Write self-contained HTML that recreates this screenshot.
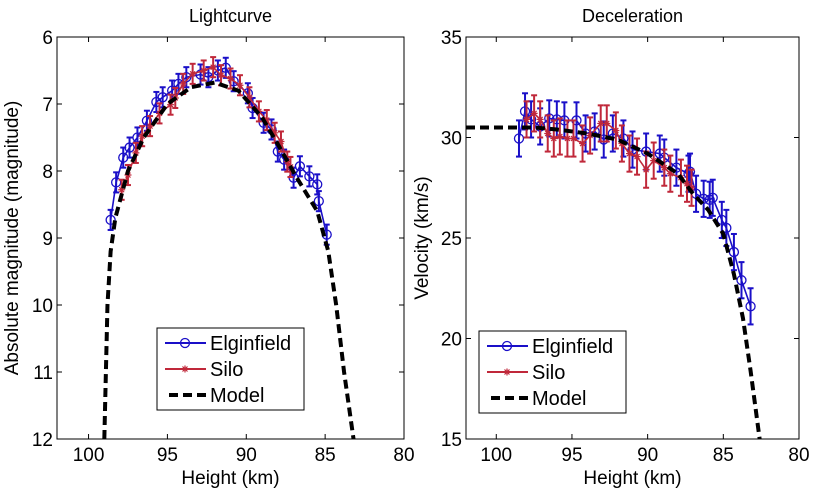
<!DOCTYPE html>
<html><head><meta charset="utf-8"><style>
html,body{margin:0;padding:0;background:#fff;}
svg{display:block;font-family:"Liberation Sans",sans-serif;}
</style></head><body>
<svg id="fig" width="813" height="489" viewBox="0 0 813 489"></svg>
<script>
// ---- Lightcurve data ----
const lcModelH=[99.0,98.9,98.8,98.6,98.3,97.5,96.5,95,93.5,92,90.5,89,88,86.8,85.5,84.8,84.3,83.8,83.2];
const lcModelM=[12,11,10,9.2,8.7,8.0,7.5,7.0,6.75,6.68,6.8,7.2,7.6,8.1,8.6,9.2,10,11,12];
const lcElgH=[98.6,98.25,97.8,97.4,96.9,96.3,95.7,95.3,94.7,94.3,93.8,92.9,92.4,91.8,91.3,90.8,89.9,89.6,88.9,88.4,88.0,87.6,87.0,86.6,86.0,85.5,85.4,84.9];
const lcElgM=[8.73,8.17,7.8,7.65,7.5,7.25,6.97,6.9,6.8,6.7,6.6,6.56,6.6,6.5,6.46,6.66,6.84,7.06,7.28,7.38,7.71,7.83,8.1,7.93,8.08,8.2,8.45,8.95];
const lcSiloH=[97.9,97.5,97.0,96.6,96.1,95.5,94.8,94.5,94.0,93.4,92.7,92.1,91.6,91.0,90.4,89.8,89.2,88.7,88.2,87.8,87.4,87.2];
const lcSiloM=[8.28,8.06,7.73,7.48,7.33,7.14,7.01,6.91,6.7,6.55,6.5,6.45,6.57,6.62,6.72,6.9,7.11,7.24,7.43,7.56,7.86,7.94];
const lcErr=0.15;
// ---- Deceleration data ----
const vModelH=[102,97.5,96,94,92,90,88,87,86,85,84.3,83.7,83.2,82.6];
const vModelV=[30.5,30.5,30.4,30.2,29.9,29.2,28.2,27.2,26.4,25.2,23.2,21,18.4,15];
const vElgH=[98.5,98.1,97.7,97.1,96.5,96.0,95.5,94.7,94.1,93.5,92.9,92.3,91.6,91.0,90.1,89.2,88.9,88.1,87.3,87.2,86.8,86.3,85.9,85.7,85.1,84.8,84.3,83.8,83.2];
const vElgV=[29.95,31.3,30.9,30.55,30.95,30.9,30.85,30.85,30.2,30.3,29.9,30.2,29.95,29.4,29.3,29.2,29.0,28.5,28.2,28.3,27.2,26.95,26.9,27.0,25.9,25.5,24.3,22.9,21.6];
const vSiloH=[98.0,97.5,97.1,96.6,96.2,95.8,95.3,94.9,94.3,93.8,93.1,92.7,92.1,91.7,91.2,90.7,90.1,89.6,88.9,88.5,87.8,87.4,87.1];
const vSiloV=[30.9,31.2,30.9,30.2,29.95,30.05,29.95,29.95,29.7,30.1,30.7,30.7,30.35,29.7,29.2,29.05,28.4,28.85,28.5,28.2,28.0,27.7,27.5];
const vErr=0.9;
const xTicks=[100,95,90,85,80];
const lcYTicks=[6,7,8,9,10,11,12];
const vYTicks=[15,20,25,30,35];

const NS='http://www.w3.org/2000/svg';
const svg=document.getElementById('fig');
function mk(tag,attrs,parent){const e=document.createElementNS(NS,tag);for(const k in attrs)e.setAttribute(k,attrs[k]);(parent||svg).appendChild(e);return e;}
const BLUE='#1a0fc8',RED='#c0283a';
const FS=19;

function panel(o){
  const g=mk('g',{});
  
  
  const sx=h=>o.x0+(o.hL-h)/(o.hL-o.hR)*(o.x1-o.x0);
  const sy=v=>o.y0+(v-o.vT)/(o.vB-o.vT)*(o.y1-o.y0);
  const clip='c'+o.name;
  const cp=mk('clipPath',{id:clip},g);mk('rect',{x:o.x0,y:o.y0,width:o.x1-o.x0,height:o.y1-o.y0},cp);
  mk('rect',{x:o.x0,y:o.y0,width:o.x1-o.x0,height:o.y1-o.y0,fill:'#fff',stroke:'#000','stroke-width':1},g);
  xTicks.forEach(t=>{const x=sx(t);
    mk('line',{x1:x,y1:o.y1,x2:x,y2:o.y1-5,stroke:'#000'},g);
    mk('line',{x1:x,y1:o.y0,x2:x,y2:o.y0+5,stroke:'#000'},g);
    const tx=mk('text',{x:x,y:o.y1+22,'font-size':FS,'text-anchor':'middle'},g);tx.textContent=t;
    
    });
  o.yt.forEach(t=>{const y=sy(t);
    mk('line',{x1:o.x0,y1:y,x2:o.x0+5,y2:y,stroke:'#000'},g);
    mk('line',{x1:o.x1,y1:y,x2:o.x1-5,y2:y,stroke:'#000'},g);
    const tx=mk('text',{x:o.x0-4,y:y+7,'font-size':FS,'text-anchor':'end'},g);tx.textContent=t;
    
    });
  const ti=mk('text',{x:(o.x0+o.x1)/2,y:22,'font-size':18,'text-anchor':'middle'},g);ti.textContent=o.title;
  
  
  const xl=mk('text',{x:(o.x0+o.x1)/2,y:o.y1+45,'font-size':FS,'text-anchor':'middle'},g);xl.textContent='Height (km)';
  
  
  const yl=mk('text',{x:0,y:0,'font-size':FS,'text-anchor':'middle',transform:`translate(${o.ylx},${(o.y0+o.y1)/2}) rotate(-90)`},g);yl.textContent=o.ylabel;
  
  
  const pg=mk('g',{'clip-path':`url(#${clip})`},g);
  function series(H,V,err,col,marker,name){
    const sg=mk('g',{},pg);
    
    
    mk('polyline',{points:H.map((h,i)=>sx(h)+','+sy(V[i])).join(' '),fill:'none',stroke:col,'stroke-width':1.6},sg);
    H.forEach((h,i)=>{const x=sx(h),ya=sy(V[i]-err),yb=sy(V[i]+err);
      mk('line',{x1:x,y1:ya,x2:x,y2:yb,stroke:col,'stroke-width':2},sg);
      mk('line',{x1:x-3,y1:ya,x2:x+3,y2:ya,stroke:col,'stroke-width':2},sg);
      mk('line',{x1:x-3,y1:yb,x2:x+3,y2:yb,stroke:col,'stroke-width':2},sg);
      drawMarker(sg,marker,x,sy(V[i]),col);});
  }
  series(o.eH,o.eV,o.err,BLUE,'o','elginfield-series');
  series(o.sH,o.sV,o.err,RED,'*','silo-series');
  const mg=mk('polyline',{points:o.mH.map((h,i)=>sx(h)+','+sy(o.mV[i])).join(' '),fill:'none',stroke:'#000','stroke-width':4,'stroke-dasharray':'9,5'},pg);
  
  
  const L=o.leg;const lg=mk('g',{},g);
  
  
  mk('rect',{x:L.x,y:L.y,width:147,height:82,fill:'#fff',stroke:'#000'},lg);
  [['Elginfield',BLUE,'o'],['Silo',RED,'*'],['Model','#000','']].forEach((e,i)=>{
    const y=L.y+15+i*26;
    const eg=mk('g',{},lg);
    
    
    if(e[2]){mk('line',{x1:L.x+8,y1:y,x2:L.x+49,y2:y,stroke:e[1],'stroke-width':2},eg);drawMarker(eg,e[2],L.x+28,y,e[1]);}
    else mk('line',{x1:L.x+12,y1:y,x2:L.x+49,y2:y,stroke:'#000','stroke-width':4,'stroke-dasharray':'9,5'},eg);
    const t=mk('text',{x:L.x+53,y:y+7,'font-size':20},eg);t.textContent=e[0];
  });
}
function drawMarker(g,m,x,y,col){
  if(m==='o')mk('circle',{cx:x,cy:y,r:4.5,fill:'none',stroke:col,'stroke-width':1.3},g);
  else{mk('path',{d:`M${x-3.5},${y}H${x+3.5}M${x},${y-3.5}V${y+3.5}M${x-2.5},${y-2.5}L${x+2.5},${y+2.5}M${x-2.5},${y+2.5}L${x+2.5},${y-2.5}`,stroke:col,'stroke-width':1.2},g);}
}
panel({name:'lightcurve-chart',title:'Lightcurve',x0:57,x1:404,y0:37,y1:439,hL:102,hR:80,vT:6,vB:12,yt:lcYTicks,
  ylabel:'Absolute magnitude (magnitude)',ylx:18,mH:lcModelH,mV:lcModelM,eH:lcElgH,eV:lcElgM,sH:lcSiloH,sV:lcSiloM,err:lcErr,leg:{x:157,y:328}});
panel({name:'deceleration-chart',title:'Deceleration',x0:466,x1:799,y0:37,y1:439,hL:102,hR:80,vT:35,vB:15,yt:vYTicks,
  ylabel:'Velocity (km/s)',ylx:428,mH:vModelH,mV:vModelV,eH:vElgH,eV:vElgV,sH:vSiloH,sV:vSiloV,err:vErr,leg:{x:479,y:331}});
</script>
</body></html>
